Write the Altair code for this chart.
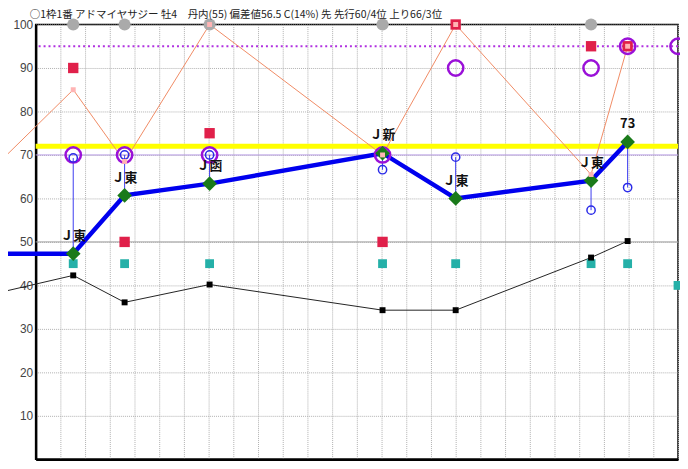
import altair as alt
import pandas as pd

# ---- data ----
race_x = [1.52, 3.6, 7.04, 14.04, 17.0, 22.48, 23.96]
race_labels = ["Ｊ東", "Ｊ東", "Ｊ函", "Ｊ新", "Ｊ東", "Ｊ東", "73"]
index_vals = [47.3, 60.7, 63.4, 70.4, 60.0, 64.1, 73.0]
lead_x = [-1.44]
index_lead_vals = [47.3]
blue_circle_vals = [69.3, 70.0, 70.0, 66.6, 69.5, 57.3, 62.5]
purple_x = race_x + [26.0]
purple_vals = [70, 70, 70, 70, 90, 90, 95, 95]
red_vals = [90, 50, 75, 50, 100, 95, 95]
teal_x = race_x + [26.0]
teal_vals = [45, 45, 45, 45, 45, 45, 45, 40]
black_vals = [38.4, 42.3, 36.1, 40.2, 34.3, 34.3, 46.4, 50.2]
orange_vals = [68.5, 85, 68.5, 100, 70, 100, 65.5, 95]
gray_x = [1.52, 3.6, 7.04, 14.04, 22.48]
gray_vals = [100, 100, 100, 100, 100]
yellow_level = [72]
purple_level = [95]
lavender_level = [70]
solid_grid_level = [50]
x_grid = list(range(0, 27))
y_ticks = list(range(0, 101, 10))
title_text = "○1枠1番 アドマイヤサジー 牡4　丹内(55) 偏差値56.5 C(14%) 先 先行60/4位 上り66/3位"

# ---- tables ----
races = pd.DataFrame({"x": race_x, "label": race_labels, "idx": index_vals,
                      "bc": blue_circle_vals, "red": red_vals})
index_line = pd.DataFrame({"x": lead_x + race_x, "v": index_lead_vals + index_vals})
black_line = pd.DataFrame({"x": lead_x + race_x, "v": black_vals})
orange_line = pd.DataFrame({"x": lead_x + race_x, "v": orange_vals})
purple_df = pd.DataFrame({"x": purple_x, "v": purple_vals})
teal_df = pd.DataFrame({"x": teal_x, "v": teal_vals})
gray_df = pd.DataFrame({"x": gray_x, "v": gray_vals})
frame_df = pd.DataFrame({"x": [0, 26], "v": [0, 100]})

xs = alt.Scale(domain=[0, 26], nice=False, zero=False)
ys = alt.Scale(domain=[0, 100], nice=False)

x_axis = alt.Axis(
    values=x_grid, grid=True, gridColor="#b0b0b0", gridDash=[1, 1],
    gridWidth=1, labels=False, ticks=False, domainColor="black",
    domainWidth=2.5, title=None)
y_axis = alt.Axis(
    values=y_ticks, grid=True, gridColor="#b0b0b0",
    gridDash=[1, 1], gridWidth=1, ticks=False, labelPadding=3,
    labelFontSize=12, labelColor="#444444", labelFont="Liberation Sans",
    labelExpr="datum.value == 0 ? '' : datum.label",
    domainColor="black", domainWidth=2.5, title=None)


def X(f="x"):
    return alt.X(f"{f}:Q", scale=xs, axis=x_axis)


def Y(f="v"):
    return alt.Y(f"{f}:Q", scale=ys, axis=y_axis)


frame = alt.Chart(frame_df).mark_point(opacity=0).encode(x=X(), y=Y())

solid50 = alt.Chart(pd.DataFrame({"v": solid_grid_level})).mark_rule(
    color="#a0a0a0", strokeWidth=1).encode(y=Y())
lav70 = alt.Chart(pd.DataFrame({"v": lavender_level})).mark_rule(
    color="#b89ae6", strokeWidth=1).encode(y=Y())
yellow = alt.Chart(pd.DataFrame({"v": yellow_level})).mark_rule(
    color="#ffff00", strokeWidth=5).encode(y=Y())
pdot = alt.Chart(pd.DataFrame({"v": purple_level})).mark_rule(
    color="#b030e0", strokeWidth=2, strokeDash=[2, 3]).encode(y=Y())

orange = alt.Chart(orange_line).mark_line(color="#f08a64", strokeWidth=1).encode(
    x=X(), y=Y())
black = alt.Chart(black_line).mark_line(color="#222222", strokeWidth=1).encode(
    x=X(), y=Y())
stems = alt.Chart(races).mark_rule(color="#3b3bf0", strokeWidth=1).encode(
    x=X(), y=Y("bc"), y2="idx:Q")
blue = alt.Chart(index_line).mark_line(color="#0000ee", strokeWidth=4.5).encode(
    x=X(), y=Y())
teal = alt.Chart(teal_df).mark_square(size=80, color="#25b0a8", opacity=1).encode(
    x=X(), y=Y())
black_pts = alt.Chart(black_line).mark_square(size=36, color="black", opacity=1).encode(
    x=X(), y=Y())
red = alt.Chart(races).mark_square(size=110, color="#e0204a", opacity=1).encode(
    x=X(), y=Y("red"))
purple = alt.Chart(purple_df).mark_point(
    shape="circle", size=240, color="#9a10d8", strokeWidth=2.5, filled=False,
    opacity=1).encode(x=X(), y=Y())
small_blue = alt.Chart(races).mark_point(
    shape="circle", size=70, color="#2a2ae8", strokeWidth=1.5, filled=False,
    opacity=1).encode(x=X(), y=Y("bc"))
diamonds = alt.Chart(races).mark_point(
    shape="diamond", size=220, color="#1a7a1a", filled=True, opacity=1).encode(
    x=X(), y=Y("idx"))
gray = alt.Chart(gray_df).mark_circle(size=150, color="#aaaaaa", opacity=1).encode(
    x=X(), y=Y())
pink = alt.Chart(orange_line).mark_square(size=25, color="#ffb4b4", opacity=1).encode(
    x=X(), y=Y())
labels = alt.Chart(races).mark_text(
    dy=-18, fontSize=13, fontWeight="bold", font="Noto Sans CJK JP",
    color="#111111").encode(x=X(), y=Y("idx"), text="label:N")

chart = alt.layer(
    frame, solid50, lav70, yellow, pdot, orange, black, stems, blue, teal,
    black_pts, red, purple, small_blue, diamonds, gray, pink, labels
).properties(
    width=650, height=440,
    autosize=alt.AutoSizeParams(type="none"),
    padding={"left": 28, "top": 14, "right": 2, "bottom": 0},
    title=alt.TitleParams(title_text, anchor="start", frame="group",
                          fontSize=10.6, font="Noto Sans CJK JP",
                          fontWeight="normal", color="#222222",
                          offset=-2, dx=-6),
).configure_view(stroke="black", strokeWidth=1.5)

chart.save("out.html", embed_options={"renderer": "svg", "actions": False})
